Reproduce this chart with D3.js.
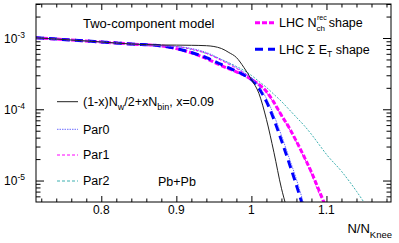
<!DOCTYPE html>
<meta charset="utf-8">
<style>
  html, body { margin:0; background:#fff; }
  svg { display:block; font-family:"Liberation Sans", Arial, sans-serif; }
</style>
<svg width="399" height="243"></svg>
<script src="https://d3js.org/d3.v7.min.js"></script>
<script>

// ---- data ----
var xTicksMajor = [0.8, 0.9, 1.0, 1.1],
    xTickLabels = ["0.8", "0.9", "1", "1.1"],
    yTicksMajor = [1e-5, 1e-4, 1e-3],
    yTickExps = ["-5", "-4", "-3"];

var xBlack = [0.713, 0.76, 0.80, 0.84, 0.88, 0.90, 0.92, 0.94, 0.96, 0.97, 0.98, 0.99, 1.00, 1.01, 1.02, 1.03, 1.04, 1.046],
    yBlack = [1.006e-3, 9.37e-4, 8.79e-4, 8.24e-4, 7.98e-4, 7.95e-4, 7.9e-4, 7.8e-4, 7.13e-4, 6.26e-4, 5.33e-4, 3.86e-4, 2.62e-4, 1.67e-4, 7.23e-5, 2.49e-5, 7.8e-6, 4.5e-6];

var xPar0 = [0.713, 0.76, 0.80, 0.84, 0.88, 0.90, 0.92, 0.94, 0.96, 0.98, 0.99, 1.00, 1.01, 1.02, 1.03, 1.04, 1.05, 1.06, 1.07],
    yPar0 = [1.006e-3, 9.37e-4, 8.79e-4, 8.24e-4, 7.8e-4, 7.6e-4, 7.13e-4, 6.26e-4, 5.0e-4, 3.86e-4, 3.29e-4, 2.71e-4, 2.09e-4, 1.42e-4, 8.22e-5, 4.31e-5, 2.12e-5, 1.04e-5, 4.6e-6];

var xPar1 = [0.713, 0.76, 0.80, 0.84, 0.88, 0.90, 0.92, 0.94, 0.96, 0.98, 0.99, 1.00, 1.01, 1.02, 1.03, 1.04, 1.05, 1.06, 1.07, 1.08, 1.09, 1.097],
    yPar1 = [1.006e-3, 9.37e-4, 8.79e-4, 8.24e-4, 7.8e-4, 7.6e-4, 7.01e-4, 6.07e-4, 4.84e-4, 3.74e-4, 3.24e-4, 2.71e-4, 2.23e-4, 1.73e-4, 1.21e-4, 8.22e-5, 5.4e-5, 3.44e-5, 2.12e-5, 1.23e-5, 6.64e-6, 4.6e-6];

var xPar2 = [0.713, 0.76, 0.80, 0.84, 0.88, 0.90, 0.92, 0.94, 0.96, 0.98, 0.99, 1.00, 1.01, 1.02, 1.03, 1.04, 1.05, 1.06, 1.07, 1.08, 1.09, 1.10, 1.12, 1.14, 1.152],
    yPar2 = [1.006e-3, 9.37e-4, 8.79e-4, 8.24e-4, 7.8e-4, 7.6e-4, 6.9e-4, 6.07e-4, 5.0e-4, 3.99e-4, 3.51e-4, 2.99e-4, 2.46e-4, 2.03e-4, 1.62e-4, 1.29e-4, 9.98e-5, 7.71e-5, 5.96e-5, 4.45e-5, 3.22e-5, 2.33e-5, 1.35e-5, 7.08e-6, 4.6e-6];

var xNch = [0.713, 0.76, 0.80, 0.84, 0.88, 0.90, 0.92, 0.94, 0.96, 0.98, 0.99, 1.00, 1.01, 1.02, 1.03, 1.04, 1.05, 1.06, 1.07, 1.08, 1.09, 1.098],
    yNch = [1.006e-3, 9.37e-4, 8.79e-4, 8.24e-4, 7.73e-4, 7.1e-4, 6.2e-4, 5.15e-4, 4.1e-4, 3.35e-4, 3.03e-4, 2.62e-4, 2.23e-4, 1.78e-4, 1.25e-4, 8.22e-5, 5.58e-5, 3.55e-5, 2.19e-5, 1.31e-5, 7.31e-6, 4.6e-6];

var xEt = [0.713, 0.76, 0.80, 0.84, 0.88, 0.90, 0.92, 0.94, 0.96, 0.98, 0.99, 1.00, 1.01, 1.02, 1.03, 1.04, 1.05, 1.06, 1.068],
    yEt = [1.006e-3, 9.37e-4, 8.79e-4, 8.24e-4, 7.73e-4, 7.13e-4, 6.26e-4, 5.3e-4, 4.25e-4, 3.42e-4, 3.03e-4, 2.62e-4, 1.96e-4, 1.29e-4, 7.23e-5, 3.67e-5, 1.8e-5, 8.59e-6, 4.6e-6];

// ---- layout ----
var svg = d3.select("svg"),
    L = 36, R = 391, T = 4, B = 202;

var x = d3.scaleLinear().domain([0.713, 1.186]).range([L, R]),
    y = d3.scaleLog().domain([5e-6, 3e-3]).range([B, T]);

var xMinor = d3.range(0.72, 1.19, 0.02).filter(function(v) {
  return !xTicksMajor.some(function(m) { return Math.abs(m - v) < 1e-6; });
});
var yMinor = [];
[-6, -5, -4, -3].forEach(function(e) {
  for (var k = 2; k <= 9; k++) {
    var v = k * Math.pow(10, e);
    if (v >= 5e-6 && v <= 3e-3) yMinor.push(v);
  }
});

// ticks (ROOT style: inside the frame, on all four sides)
function tickAxis(axis, tr) {
  var g = svg.append("g").attr("transform", tr).call(axis);
  g.select(".domain").remove();
  g.selectAll("text").remove();
  g.selectAll("line").attr("stroke", "#000");
}
tickAxis(d3.axisBottom(x).tickValues(xTicksMajor).tickSize(-6), "translate(0," + B + ")");
tickAxis(d3.axisBottom(x).tickValues(xMinor).tickSize(-3.5), "translate(0," + B + ")");
tickAxis(d3.axisTop(x).tickValues(xTicksMajor).tickSize(-6), "translate(0," + T + ")");
tickAxis(d3.axisTop(x).tickValues(xMinor).tickSize(-3.5), "translate(0," + T + ")");
tickAxis(d3.axisLeft(y).tickValues(yTicksMajor).tickSize(-8), "translate(" + L + ",0)");
tickAxis(d3.axisLeft(y).tickValues(yMinor).tickSize(-4.5), "translate(" + L + ",0)");
tickAxis(d3.axisRight(y).tickValues(yTicksMajor).tickSize(-8), "translate(" + R + ",0)");
tickAxis(d3.axisRight(y).tickValues(yMinor).tickSize(-4.5), "translate(" + R + ",0)");

// tick labels
svg.append("g").selectAll("text").data(xTicksMajor).enter().append("text")
    .attr("x", function(d) { return x(d); })
    .attr("y", 214)
    .attr("text-anchor", "middle")
    .attr("font-size", 12)
    .text(function(d, i) { return xTickLabels[i]; });

var yl = svg.append("g").selectAll("text").data(yTicksMajor).enter().append("text")
    .attr("x", 25)
    .attr("y", function(d) { return y(d) + 4.5; })
    .attr("text-anchor", "end")
    .attr("font-size", 12);
yl.append("tspan").text("10");
yl.append("tspan").attr("dy", -5).attr("font-size", 8.5).text(function(d, i) { return yTickExps[i]; });

// axis title
var xt = svg.append("text").attr("x", 392).attr("y", 233).attr("text-anchor", "end").attr("font-size", 13);
xt.append("tspan").text("N/N");
xt.append("tspan").attr("dy", 5).attr("font-size", 9.5).text("Knee");

// curves
svg.append("clipPath").attr("id", "clip").append("rect")
    .attr("x", L).attr("y", T).attr("width", R - L).attr("height", B - T);

var line = d3.line()
    .x(function(d) { return x(d[0]); })
    .y(function(d) { return y(d[1]); })
    .curve(d3.curveMonotoneX);

var series = [
  {xs: xNch, ys: yNch, color: "#ff00ff", w: 3, dash: "5,2"},
  {xs: xEt, ys: yEt, color: "#0000ff", w: 3, dash: "8,5"},
  {xs: xPar2, ys: yPar2, color: "#3cb0b0", w: 1, dash: "2,1.5"},
  {xs: xPar1, ys: yPar1, color: "#ff00ff", w: 1, dash: "3,2"},
  {xs: xPar0, ys: yPar0, color: "#6b6bff", w: 1, dash: "1.5,1"},
  {xs: xBlack, ys: yBlack, color: "#222", w: 1, dash: null}
];

svg.append("g").attr("clip-path", "url(#clip)")
  .selectAll("path").data(series).enter().append("path")
    .attr("fill", "none")
    .attr("stroke", function(d) { return d.color; })
    .attr("stroke-width", function(d) { return d.w; })
    .attr("stroke-dasharray", function(d) { return d.dash; })
    .attr("d", function(d) { return line(d3.zip(d.xs, d.ys)); });

// frame
svg.append("rect").attr("x", L).attr("y", T).attr("width", R - L).attr("height", B - T)
    .attr("fill", "none").attr("stroke", "#000").attr("stroke-width", 1);

// texts
svg.append("text").attr("x", 83).attr("y", 28).attr("font-size", 13).text("Two-component model");
svg.append("text").attr("x", 158).attr("y", 185.5).attr("font-size", 12.5).text("Pb+Pb");

// left legend
function legendLine(x1, x2, yy, s) {
  svg.append("line").attr("x1", x1).attr("x2", x2).attr("y1", yy).attr("y2", yy)
      .attr("stroke", s.color).attr("stroke-width", s.w).attr("stroke-dasharray", s.dash);
}
function legendText(xx, yy, parts) {
  var t = svg.append("text").attr("x", xx).attr("y", yy).attr("font-size", 12.5);
  parts.forEach(function(p) {
    var ts = t.append("tspan").text(p[0]);
    if (p[1]) ts.attr("dy", p[1]);
    if (p[2]) ts.attr("font-size", p[2]);
  });
}

legendLine(57, 78, 101.7, series[5]);
legendText(83, 106, [["(1-x)N"], ["w", 4, 9], ["/2+xN", -4], ["bin", 4, 9], [", x=0.09", -4]]);
legendLine(57, 78, 129.3, series[4]);
legendText(83, 133.6, [["Par0"]]);
legendLine(57, 78, 155, series[3]);
legendText(83, 159.3, [["Par1"]]);
legendLine(57, 78, 181, {color: "#3cb0b0", w: 1, dash: "3,2"});
legendText(83, 185.3, [["Par2"]]);

// right legend
legendLine(255, 275, 22.7, series[0]);
var t1 = svg.append("text").attr("x", 279).attr("y", 27).attr("font-size", 12.5);
t1.append("tspan").text("LHC N");
t1.append("tspan").attr("font-size", 8).attr("dy", 4).text("ch");
t1.append("tspan").attr("font-size", 7).attr("dx", -8).attr("dy", -11).text("rec");
t1.append("tspan").attr("dy", 7).attr("dx", 2).text("shape");

legendLine(255, 275, 49.3, series[1]);
var t2 = svg.append("text").attr("x", 279).attr("y", 53.6).attr("font-size", 12.5);
t2.append("tspan").text("LHC \u03A3 E");
t2.append("tspan").attr("font-size", 8.5).attr("dy", 3.5).text("T");
t2.append("tspan").attr("dy", -3.5).text(" shape");

</script>
